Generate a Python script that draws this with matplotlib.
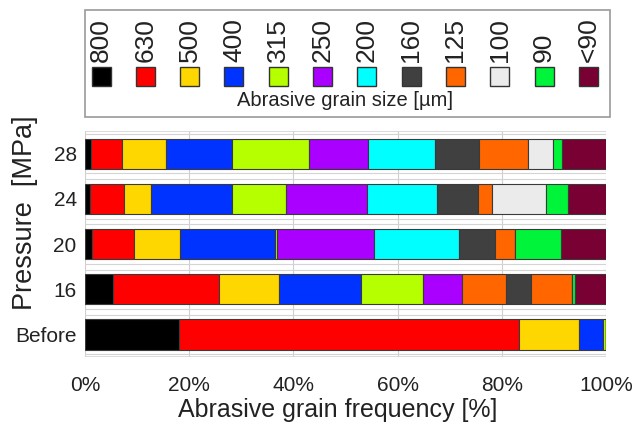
import matplotlib
matplotlib.use("Agg")
import matplotlib.pyplot as plt
from matplotlib.patches import Rectangle
import numpy as np

plt.rcParams["font.family"] = ["Liberation Sans", "DejaVu Sans"]

# ========= data =========

rows = ["Before", "16", "20", "24", "28"]
sizes = ["800", "630", "500", "400", "315", "250", "200", "160", "125", "100", "90", "<90"]
colors = ["#000000", "#FF0000", "#FFD700", "#0033FF", "#B5FF00", "#AA00FF",
          "#00FFFF", "#404040", "#FF6600", "#EBEBEB", "#00F53A", "#780032"]

# frequency [%] per grain size, one list per row
freq_before = [18.0, 65.2, 11.6, 4.7, 0.5, 0, 0, 0, 0, 0, 0, 0]
freq_16 = [5.4, 20.3, 11.5, 15.8, 11.8, 7.5, 8.4, 4.8, 7.9, 0, 0.7, 5.9]
freq_20 = [1.3, 8.1, 8.8, 18.2, 0.4, 18.6, 16.4, 6.8, 3.9, 0, 8.9, 8.6]
freq_24 = [1.0, 6.5, 5.1, 15.7, 10.3, 15.6, 13.4, 7.8, 2.8, 10.3, 4.2, 7.3]
freq_28 = [1.1, 6.0, 8.4, 12.7, 14.7, 11.5, 12.7, 8.5, 9.4, 4.8, 1.8, 8.4]

# the source figure paints the 200 segment of the 16 MPa bar orange
color_override = {("16", "200"): "#FF6600"}

xticks = [0, 20, 40, 60, 80, 100]

# ========= figure =========

fig = plt.figure(figsize=(6.32, 4.23), dpi=100)
ax = fig.add_axes([0.1345, 0.156, 0.8245, 0.534])

table = np.array([freq_before, freq_16, freq_20, freq_24, freq_28])
y = np.arange(len(rows))
left = np.zeros(len(rows))
for j, size in enumerate(sizes):
    seg_colors = [color_override.get((r, size), colors[j]) for r in rows]
    ax.barh(y, table[:, j], left=left, height=0.67, color=seg_colors,
            edgecolor="#3a3a3a", linewidth=0.8, zorder=3)
    left += table[:, j]

ax.set_xlim(0, 100)
ax.set_ylim(-0.5, len(rows) - 0.5)

# light grid: vertical at ticks, double line in each gap
for xv in xticks:
    ax.axvline(xv, color="#cfcfcf", lw=0.8, zorder=1)
for k in range(len(rows) + 1):
    for off in (-0.065, 0.065):
        yy = k - 0.5 + off
        if -0.5 <= yy <= len(rows) - 0.5:
            ax.axhline(yy, color="#d4d4d4", lw=0.8, zorder=1)
ax.axhline(len(rows) - 0.5, color="#d4d4d4", lw=1.2, zorder=1)
ax.axhline(-0.5, color="#d4d4d4", lw=1.2, zorder=1)

for s in ax.spines.values():
    s.set_visible(False)

ax.set_xticks(xticks)
ax.set_xticklabels([f"{v}%" for v in xticks])
ax.set_yticks(y)
ax.set_yticklabels(rows)
ax.tick_params(length=0, labelsize=15, colors="#222222")
ax.tick_params(axis="x", pad=14)
ax.tick_params(axis="y", pad=6)

ax.set_xlabel("Abrasive grain frequency [%]", fontsize=18, color="#222222",
              va="center")
ax.xaxis.set_label_coords(0.485, -0.235)
ax.set_ylabel("Pressure  [MPa]", fontsize=19.5, color="#222222", va="center")
ax.yaxis.set_label_coords(-0.115, 0.64)

# ========= legend box =========

W, H = 632.0, 423.0
fig.patches.append(Rectangle((85 / W, 1 - 117 / H), 525 / W, 107 / H,
                             transform=fig.transFigure, fill=False,
                             edgecolor="#999999", linewidth=1.2))
sq = 19
for j, size in enumerate(sizes):
    cx = 101 + j * 44.3
    fig.patches.append(Rectangle(((cx - sq / 2) / W, 1 - 86 / H), sq / W, sq / H,
                                 transform=fig.transFigure, facecolor=colors[j],
                                 edgecolor="#333333", linewidth=1.0))
    fig.text(cx / W, 1 - 62 / H, size, rotation=90, ha="center", va="bottom",
             fontsize=19, color="#222222")
fig.text(345 / W, 1 - 100 / H, "Abrasive grain size [\u00b5m]", ha="center",
         va="center", fontsize=14.5, color="#222222")

fig.savefig("out.png", dpi=100)
